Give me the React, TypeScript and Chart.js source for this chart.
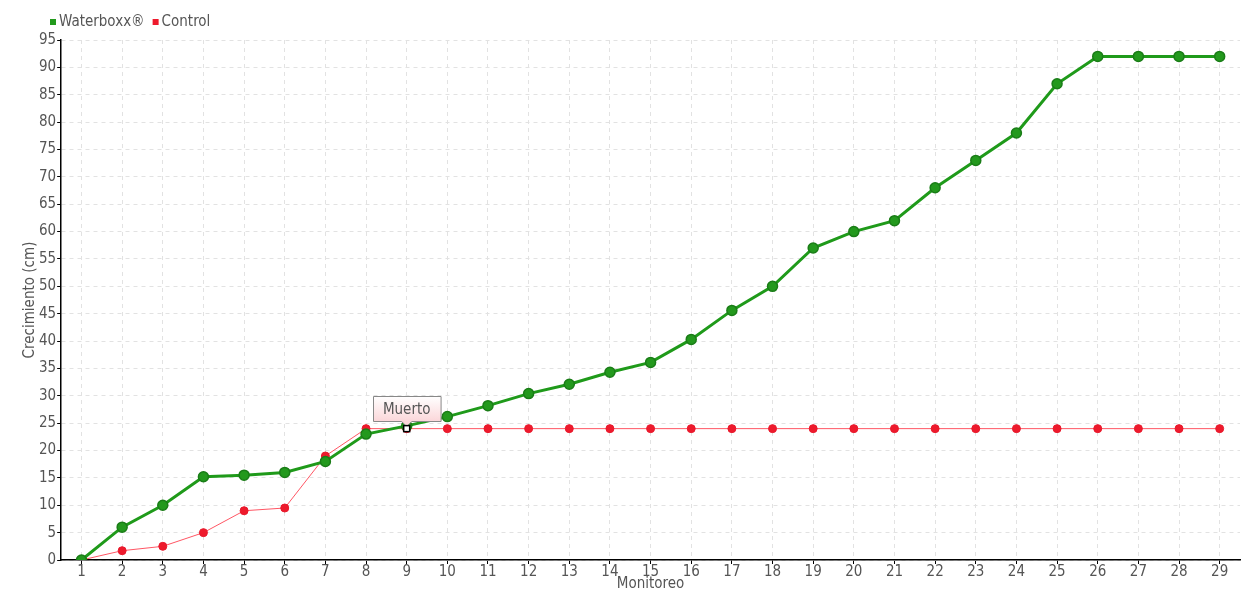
import React, { useEffect, useRef } from "react";
import { Chart, registerables } from "chart.js";

Chart.register(...registerables);

const categories = ["1","2","3","4","5","6","7","8","9","10","11","12","13","14","15","16","17","18","19","20","21","22","23","24","25","26","27","28","29"];
const waterboxx = [0, 6, 10, 15.2, 15.5, 16, 18, 23, 24.5, 26.2, 28.2, 30.4, 32.1, 34.3, 36.1, 40.3, 45.6, 50, 57, 60, 62, 68, 73, 78, 87, 92, 92, 92, 92];
const control = [0, 1.7, 2.5, 5, 9, 9.5, 19, 24, 24, 24, 24, 24, 24, 24, 24, 24, 24, 24, 24, 24, 24, 24, 24, 24, 24, 24, 24, 24, 24];
const annotationLabel = "Muerto";
const annotationIndex = 8;

const FONT = '"Liberation Sans Narrow", "DejaVu Sans Condensed", "DejaVu Sans", sans-serif';
const TEXT = "#555555";

const annotationPlugin = {
  id: "muerto",
  afterDatasetsDraw(chart: any) {
    const meta = chart.getDatasetMeta(1);
    const el = meta.data[annotationIndex];
    if (!el) return;
    const { x, y } = el;
    const ctx = chart.ctx;
    ctx.save();
    ctx.font = `15px ${FONT}`;
    const tw = ctx.measureText(annotationLabel).width;
    const w = tw + 20;
    const h = 25;
    const bx = Math.round(x - w / 2) + 0.5;
    const by = Math.round(y - 8 - h) + 0.5;
    const g = ctx.createLinearGradient(0, by, 0, by + h);
    g.addColorStop(0, "#ffffff");
    g.addColorStop(1, "#fbd6d9");
    ctx.beginPath();
    ctx.moveTo(bx, by);
    ctx.lineTo(bx + w, by);
    ctx.lineTo(bx + w, by + h);
    ctx.lineTo(x + 5, by + h);
    ctx.lineTo(x, by + h + 5);
    ctx.lineTo(x - 5, by + h);
    ctx.lineTo(bx, by + h);
    ctx.closePath();
    ctx.fillStyle = g;
    ctx.fill();
    ctx.strokeStyle = "#888888";
    ctx.lineWidth = 1;
    ctx.stroke();
    ctx.fillStyle = TEXT;
    ctx.textAlign = "center";
    ctx.textBaseline = "middle";
    ctx.fillText(annotationLabel, x, by + h / 2 + 1);
    ctx.fillStyle = "#ffffff";
    ctx.fillRect(x - 3, y - 3, 6, 6);
    ctx.strokeStyle = "#000000";
    ctx.lineWidth = 1.5;
    ctx.strokeRect(x - 3, y - 3, 6, 6);
    ctx.restore();
  },
};

const legendPlugin = {
  id: "customLegend",
  afterDraw(chart: any) {
    const ctx = chart.ctx;
    ctx.save();
    ctx.font = `15px ${FONT}`;
    ctx.textBaseline = "middle";
    ctx.textAlign = "left";
    let x = 50;
    const y = 22;
    chart.data.datasets.forEach((d: any) => {
      ctx.fillStyle = d.backgroundColor;
      ctx.fillRect(x, y - 3, 6, 6);
      x += 9;
      ctx.fillStyle = TEXT;
      ctx.fillText(d.label, x, y);
      x += ctx.measureText(d.label).width + 8;
    });
    ctx.restore();
  },
};

export default function App() {
  const ref = useRef<HTMLCanvasElement | null>(null);
  useEffect(() => {
    if (!ref.current) return;
    const chart = new Chart(ref.current, {
      type: "line",
      data: {
        labels: categories,
        datasets: [
          {
            label: "Waterboxx®",
            data: waterboxx,
            borderColor: "#1f9a1a",
            backgroundColor: "#229a1c",
            borderWidth: 3,
            pointRadius: 5,
            pointBorderWidth: 1.5,
            pointBorderColor: "#1a7d17",
            pointBackgroundColor: "#23991d",
            tension: 0,
          },
          {
            label: "Control",
            data: control,
            borderColor: "#ff5664",
            backgroundColor: "#ee1a2c",
            borderWidth: 1,
            pointRadius: 4,
            pointBorderWidth: 1,
            pointBorderColor: "#e8192c",
            pointBackgroundColor: "#ee1a2c",
            tension: 0,
          },
        ],
      },
      options: {
        animation: false,
        responsive: true,
        maintainAspectRatio: false,
        layout: { padding: { left: 23, right: 20, top: 40, bottom: 8 } },
        plugins: {
          tooltip: { enabled: false },
          legend: { display: false },
        },
        scales: {
          x: {
            offset: true,
            grid: {
              offset: false,
              color: "#e2e2e2",
              tickColor: "#000000",
              tickLength: 4,
            },
            border: { color: "#000000", width: 1.5, dash: [4, 4] },
            ticks: { color: TEXT, font: { family: FONT, size: 15, lineHeight: 1 }, padding: 1, maxRotation: 0, autoSkip: false },
            title: { display: true, text: "Monitoreo", color: TEXT, font: { family: FONT, size: 15, lineHeight: 1 }, padding: { top: -4, bottom: 0 } },
          },
          y: {
            min: 0,
            max: 95,
            ticks: { stepSize: 5, color: TEXT, font: { family: FONT, size: 15 }, padding: 1 },
            grid: { color: "#e2e2e2", tickColor: "#000000", tickLength: 4 },
            border: { color: "#000000", width: 1.5, dash: [4, 4] },
            title: { display: true, text: "Crecimiento (cm)", color: TEXT, font: { family: FONT, size: 15, lineHeight: 1 }, padding: { top: 0, bottom: 0 } },
          },
        },
      },
      plugins: [annotationPlugin, legendPlugin],
    } as any);
    return () => chart.destroy();
  }, []);
  return (
    <div style={{ position: "fixed", left: 0, top: 0, width: 1260, height: 600 }}>
      <canvas ref={ref} />
    </div>
  );
}
